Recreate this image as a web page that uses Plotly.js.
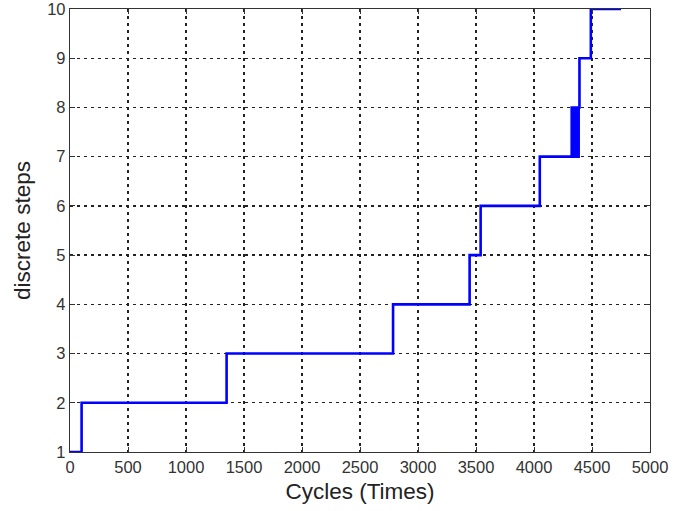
<!DOCTYPE html>
<html>
<head>
<meta charset="utf-8">
<script src="https://cdn.plot.ly/plotly-3.0.1.min.js"></script>
<style>html,body{margin:0;padding:0;background:#fff;}#chart{width:695px;height:511px;}</style>
</head>
<body>
<div id="chart"></div>
<script>
// Step data (cycles, discrete step)
const cycles = [0, 100, 1350, 2785, 3445, 3540, 4050,
  4325, 4335, 4345, 4355, 4365, 4375, 4385, 4392, 4490, 4750];
const steps = [1, 2, 3, 4, 5, 6, 7,
  8, 7, 8, 7, 8, 7, 8, 9, 10, 10];
const xTicks = [0, 500, 1000, 1500, 2000, 2500, 3000, 3500, 4000, 4500, 5000];
const yTicks = [1, 2, 3, 4, 5, 6, 7, 8, 9, 10];

const trace = {
  x: cycles, y: steps, type: 'scatter', mode: 'lines',
  line: {shape: 'hv', color: '#0000ff', width: 2.6},
  hoverinfo: 'skip'
};
const axisCommon = {
  showline: true, linecolor: '#333', linewidth: 1.2, mirror: 'ticks',
  ticks: 'inside', ticklen: 5, tickcolor: '#333', tickwidth: 1,
  showgrid: true, gridcolor: '#222', gridwidth: 1.3, griddash: '3px,4px',
  zeroline: false, ticklabeloverflow: 'allow',
  tickfont: {family: 'Liberation Sans, Arial, sans-serif', size: 16.5, color: '#333'}
};
const layout = {
  width: 695, height: 511,
  margin: {l: 70, r: 45, t: 9, b: 59},
  paper_bgcolor: '#fff', plot_bgcolor: '#fff',
  showlegend: false,
  xaxis: Object.assign({}, axisCommon, {
    range: [0, 5000], tickvals: xTicks, ticktext: xTicks.map(String),
    title: {text: 'Cycles (Times)', standoff: 8,
      font: {family: 'Liberation Sans, Arial, sans-serif', size: 22.5, color: '#222'}}
  }),
  yaxis: Object.assign({}, axisCommon, {
    range: [1, 10], tickvals: yTicks, ticktext: yTicks.map(String),
    title: {text: 'discrete steps', standoff: 10,
      font: {family: 'Liberation Sans, Arial, sans-serif', size: 22.5, color: '#222'}}
  })
};
Plotly.newPlot('chart', [trace], layout, {displayModeBar: false, staticPlot: true});
</script>
</body>
</html>
